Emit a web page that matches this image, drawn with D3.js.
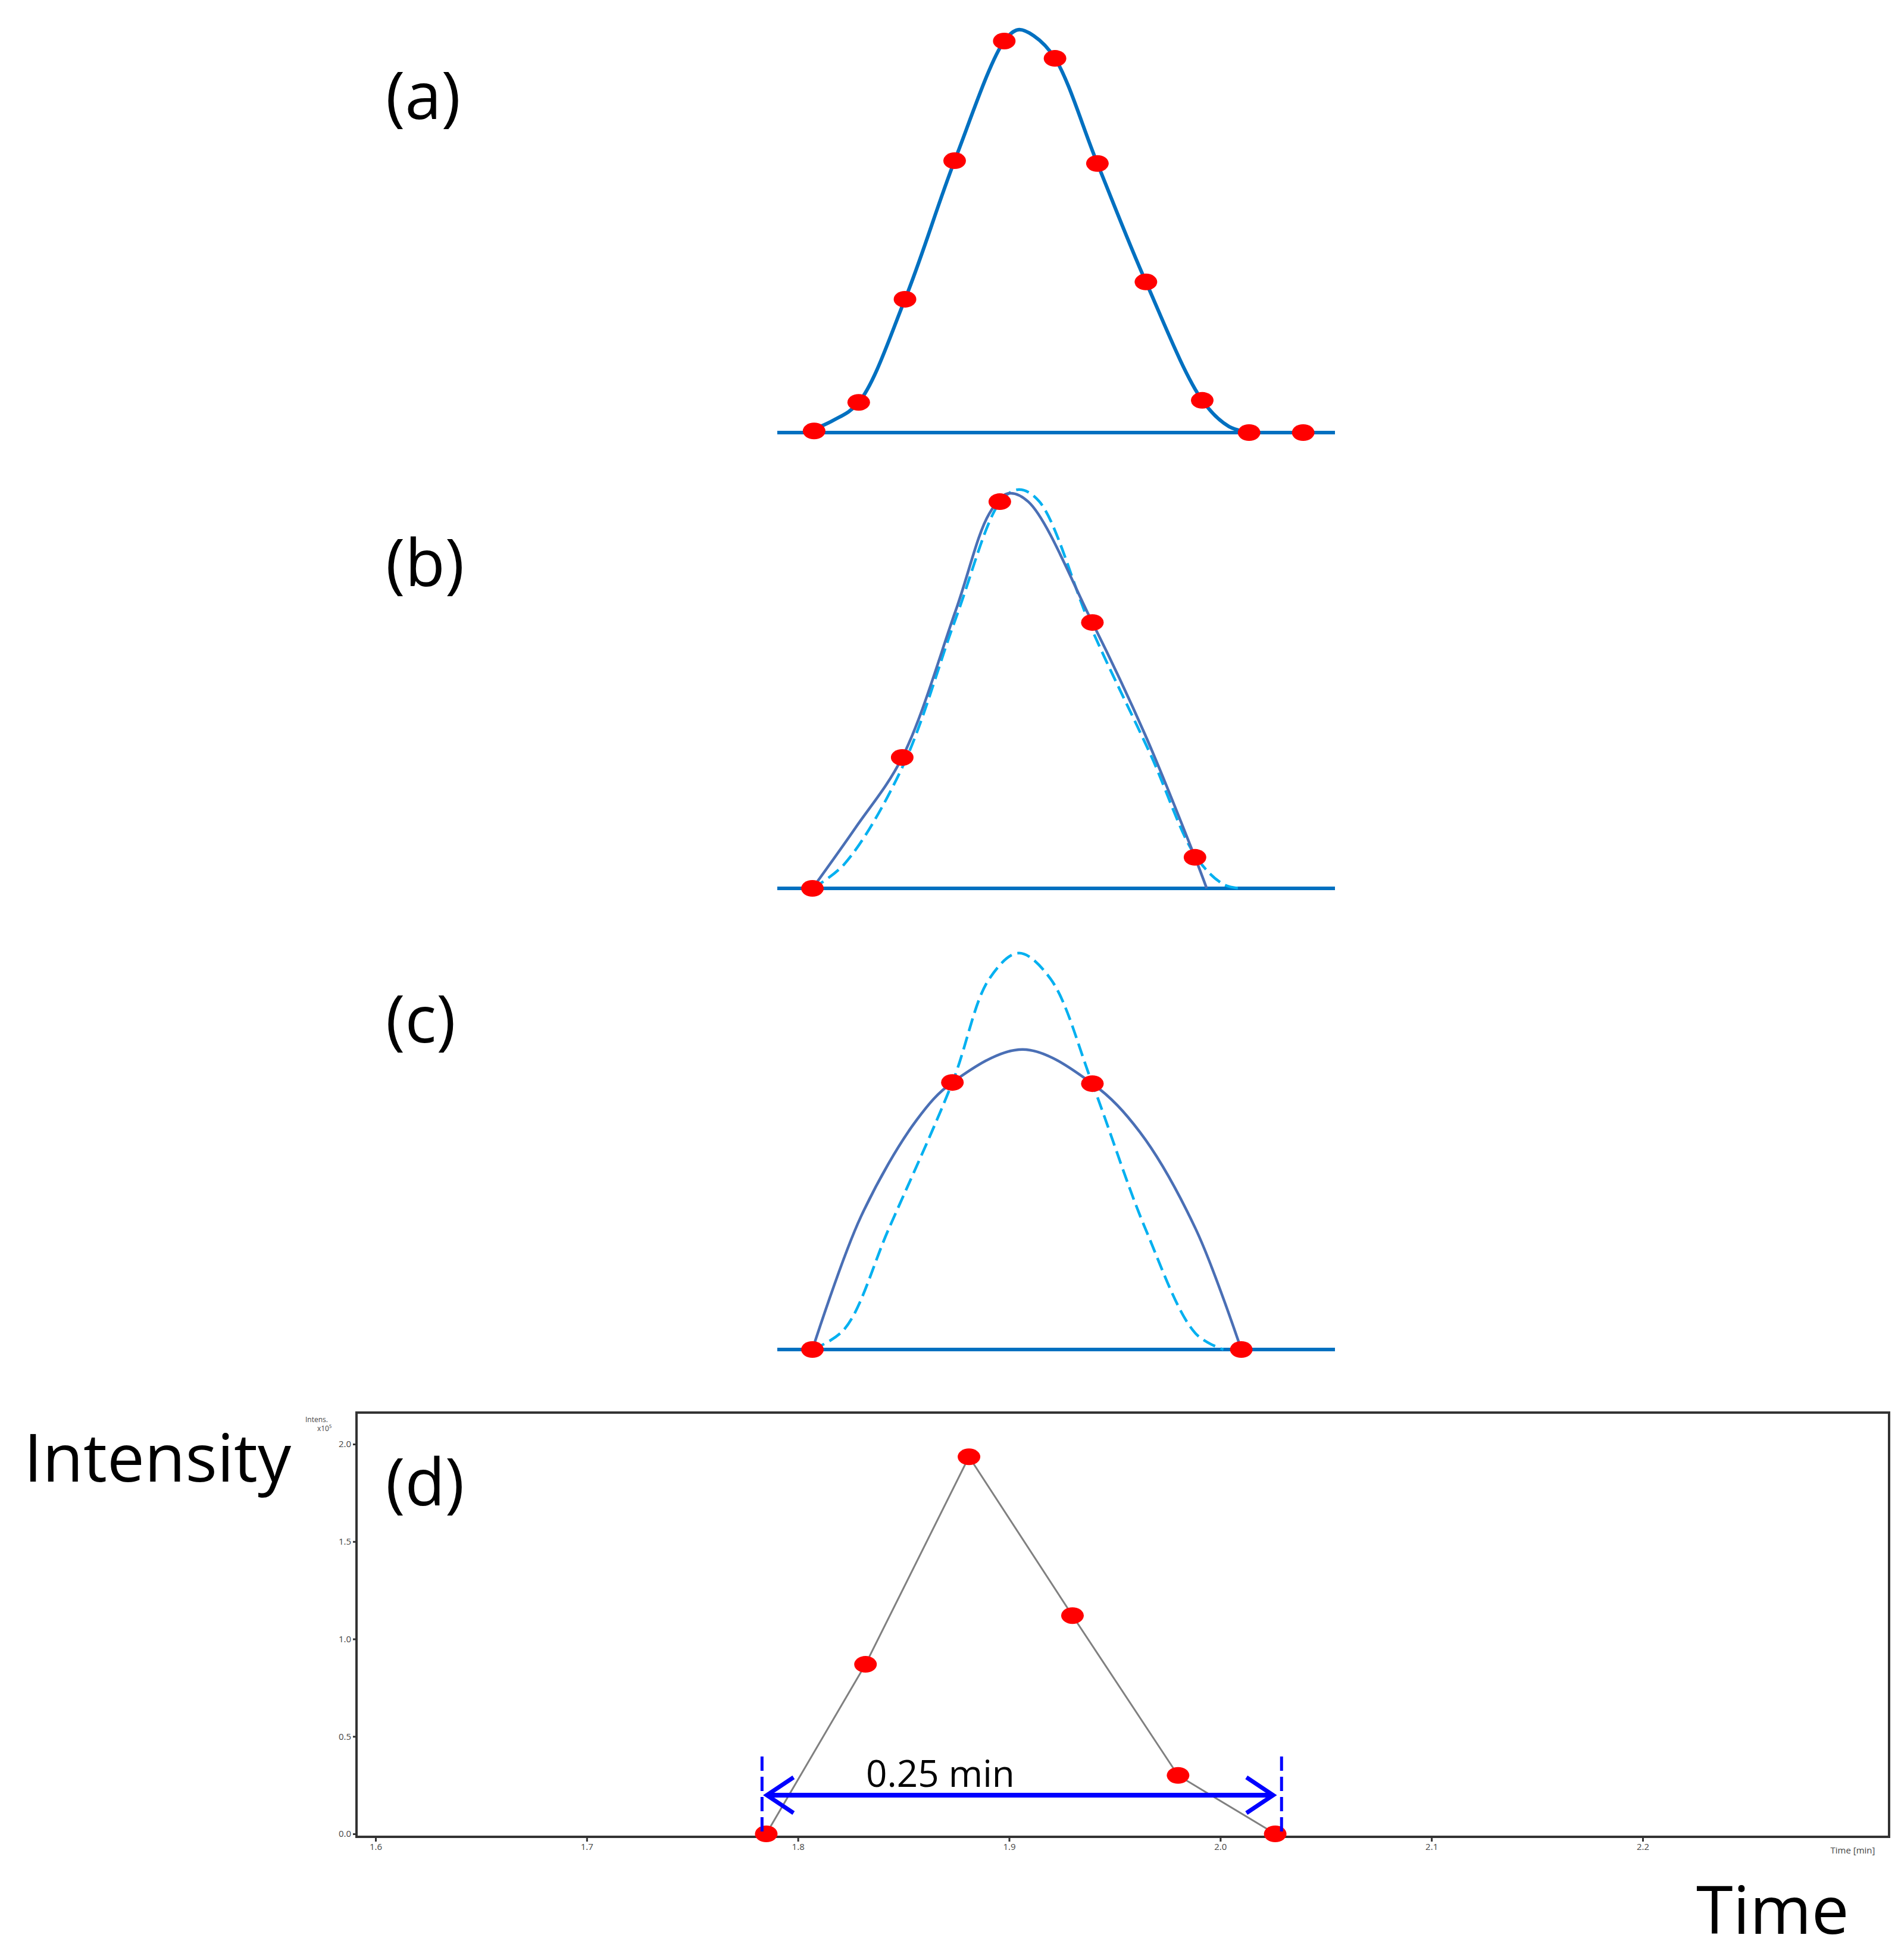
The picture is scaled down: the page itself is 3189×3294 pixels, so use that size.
<!DOCTYPE html>
<html><head><meta charset="utf-8">
<script src="https://cdn.jsdelivr.net/npm/d3@7"></script>
<style>body{margin:0;background:#fff}text{font-family:"Open Sans",Calibri,sans-serif}</style>
</head><body><div id="chart"></div>
<script>
// panel (a): sampled points and fitted curve
const aPoints = [[6.6,0.004],[14.6,0.075],[22.9,0.331],[31.8,0.675],[40.7,0.972],[49.8,0.929],[57.4,0.668],[66.1,0.374],[76.2,0.08],[84.6,0],[94.3,0]];
const aCurve = [[5,0],[10,0.03],[14.6,0.075],[22.9,0.331],[31.8,0.675],[40.7,0.972],[43.2,1.0],[46,0.985],[49.8,0.929],[57.4,0.668],[66.1,0.374],[76.2,0.08],[81,0.015],[85,0]];
// panel (b)
const bPoints = [[6.3,0],[22.4,0.325],[39.9,0.96],[56.5,0.66],[74.9,0.077]];
const bSolid = [[6.3,0],[14,0.15],[22.4,0.325],[32,0.69],[38,0.93],[41.3,0.98],[45,0.96],[56.5,0.66],[66,0.38],[74.9,0.077],[77,0]];
const bDashed = [[6.3,0],[12,0.06],[22.4,0.30],[32,0.67],[40,0.96],[43.3,0.99],[47,0.96],[56.5,0.64],[67,0.33],[75,0.08],[80,0.01],[83,0]];
// panel (c)
const cPoints = [[6.3,0],[31.4,0.663],[56.5,0.66],[83.2,0]];
const cSolid = [[6.3,0],[15,0.33],[25,0.57],[31.4,0.663],[44,0.745],[56.5,0.66],[65,0.54],[75,0.3],[83.2,0]];
const cDashed = [[6.3,0],[12,0.05],[20,0.3],[31.4,0.663],[38,0.92],[43.3,0.984],[49,0.92],[56.5,0.66],[66,0.3],[75,0.04],[80,0]];
// panel (d): chromatogram
const dPoints = [[1.785,0],[1.832,0.87],[1.881,1.935],[1.930,1.12],[1.980,0.30],[2.026,0]];
const dXTicks = [1.6,1.7,1.8,1.9,2.0,2.1,2.2];
const dYTicks = [0,0.5,1.0,1.5,2.0];
const dWidth = [1.783,2.029];

const W = 3189, H = 3294;
const svg = d3.select('#chart').append('svg').attr('width', W).attr('height', H);

const xTop = d3.scaleLinear().domain([0,100]).range([1306,2243]);
const line = (x,y) => d3.line().x(d => x(d[0])).y(d => y(d[1])).curve(d3.curveCatmullRom);

function topPanel(base, label, labelY, pts, solid, dashed, solidColor, solidWidth) {
  const y = d3.scaleLinear().domain([0,1]).range([base, base - 677]);
  const g = svg.append('g');
  g.append('line').attr('x1', xTop(0)).attr('x2', xTop(100)).attr('y1', base).attr('y2', base)
    .attr('stroke', '#0070c0').attr('stroke-width', 6);
  if (dashed) g.append('path').attr('d', line(xTop,y)(dashed)).attr('fill','none')
    .attr('stroke','#00b0f0').attr('stroke-width',4.5).attr('stroke-dasharray','22,10');
  g.append('path').attr('d', line(xTop,y)(solid)).attr('fill','none')
    .attr('stroke', solidColor).attr('stroke-width', solidWidth);
  g.selectAll('ellipse').data(pts).enter().append('ellipse')
    .attr('cx', d => xTop(d[0])).attr('cy', d => y(d[1])).attr('rx', 19).attr('ry', 14).attr('fill', '#ff0000');
  svg.append('text').attr('x', 648).attr('y', labelY).attr('font-size', 110).text(label);
}
topPanel(727, '(a)', 200, aPoints, aCurve, null, '#0070c0', 6);
topPanel(1493, '(b)', 985, bPoints, bSolid, bDashed, '#4a6fb5', 4.5);
topPanel(2268, '(c)', 1752, cPoints, cSolid, cDashed, '#4a6fb5', 4.5);

// panel (d)
const xD = d3.scaleLinear().domain([1.6,2.2]).range([631,2760]);
const yD = d3.scaleLinear().domain([0,2]).range([3082,2427]);
svg.append('rect').attr('x',599).attr('y',2374).attr('width',2575).attr('height',713)
  .attr('fill','none').attr('stroke','#333').attr('stroke-width',4);
const xAxis = svg.append('g').attr('transform','translate(0,3087)')
  .call(d3.axisBottom(xD).tickValues(dXTicks).tickFormat(d3.format('.1f')).tickSize(8));
const yAxis = svg.append('g').attr('transform','translate(599,0)')
  .call(d3.axisLeft(yD).tickValues(dYTicks).tickFormat(d3.format('.1f')).tickSize(6));
[xAxis, yAxis].forEach(a => {
  a.selectAll('text').attr('font-size', 15).attr('fill','#444');
  a.select('.domain').remove();
  a.selectAll('line').attr('stroke','#333').attr('stroke-width',3);
});
svg.append('text').attr('x',3113).attr('y',3115).attr('font-size',15).attr('text-anchor','middle').attr('fill','#444').text('Time [min]');
svg.append('text').attr('x',532).attr('y',2390).attr('font-size',12).attr('text-anchor','middle').attr('fill','#444').text('Intens.');
svg.append('text').attr('x',545).attr('y',2405).attr('font-size',12).attr('text-anchor','middle').attr('fill','#444').text('x10⁵');

svg.append('path').attr('d', d3.line().x(d => xD(d[0])).y(d => yD(d[1]))(dPoints))
  .attr('fill','none').attr('stroke','#808080').attr('stroke-width',3);
svg.selectAll('.dp').data(dPoints).enter().append('ellipse').attr('class','dp')
  .attr('cx', d => xD(d[0])).attr('cy', d => yD(d[1])).attr('rx', 19).attr('ry', 14).attr('fill','#ff0000');

// width marker
dWidth.forEach(t => svg.append('line').attr('x1', xD(t)).attr('x2', xD(t)).attr('y1',2952).attr('y2',3087)
  .attr('stroke','#0000ff').attr('stroke-width',5).attr('stroke-dasharray','24,10'));
const ay = 3017, ax1 = xD(dWidth[0]) + 8, ax2 = xD(dWidth[1]) - 14;
svg.append('line').attr('x1',ax1).attr('x2',ax2).attr('y1',ay).attr('y2',ay).attr('stroke','#0000ff').attr('stroke-width',8);
svg.append('path').attr('d',`M${ax1+45},${ay-30}L${ax1},${ay}L${ax1+45},${ay+30}`).attr('fill','none').attr('stroke','#0000ff').attr('stroke-width',7);
svg.append('path').attr('d',`M${ax2-45},${ay-30}L${ax2},${ay}L${ax2-45},${ay+30}`).attr('fill','none').attr('stroke','#0000ff').attr('stroke-width',7);
svg.append('text').attr('x',1580).attr('y',3003).attr('font-size',62).attr('text-anchor','middle').text('0.25 min');

svg.append('text').attr('x',648).attr('y',2530).attr('font-size',110).text('(d)');
svg.append('text').attr('x',40).attr('y',2490).attr('font-size',112).text('Intensity');
svg.append('text').attr('x',2850).attr('y',3250).attr('font-size',112).text('Time');
</script></body></html>
